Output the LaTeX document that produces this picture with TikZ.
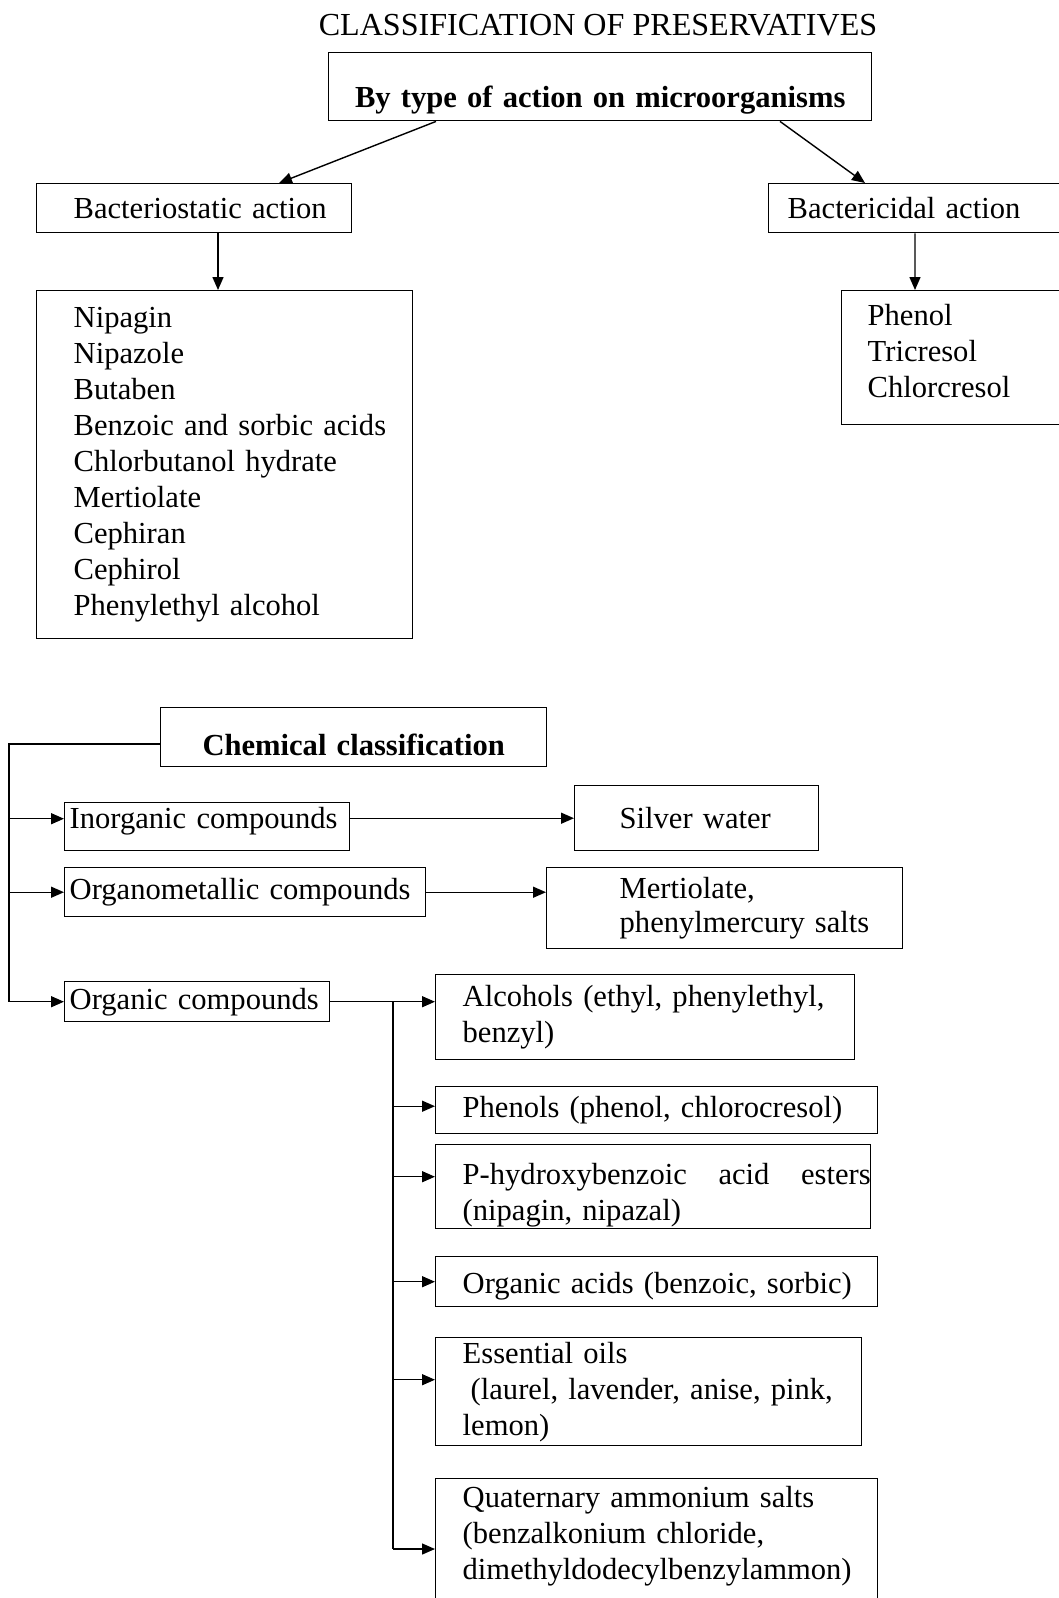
\documentclass[tikz,border=0pt]{standalone}
\usepackage{fontspec}
\setmainfont{Liberation Serif}
\usepackage{tikz}
\usetikzlibrary{positioning, arrows.meta, calc}

\begin{document}
\begin{tikzpicture}[
    box/.style={draw, anchor=north west, inner xsep=0pt, inner ysep=0pt, align=left},
    lead/.style={execute at begin node={\leftskip=#1}},
    arr/.style={-{Triangle[length=1.3mm, width=1.1mm]}},
    every node/.style={font=\fontsize{8.7pt}{10.24pt}\selectfont}
]
\useasboundingbox (0,0) rectangle (10.59,-15.98);

% By type of action
\node[font=\fontsize{9.13pt}{10.24pt}\selectfont] (title) at (5.98,-0.25) {CLASSIFICATION OF PRESERVATIVES};
\node[box, align=center, text width=5.43cm, minimum height=0.68cm, text height=0.5cm, text depth=0.08cm] (action) at (3.28,-0.52) {\textbf{By type of action on microorganisms}};

\node[box, text width=3.15cm, minimum height=0.49cm, lead=0.37cm] (bstat) at (0.36,-1.83) {Bacteriostatic action};
\node[box, text width=3.07cm, minimum height=0.49cm, lead=0.19cm] (bcid) at (7.68,-1.83) {Bactericidal action};
\draw[arr] ([xshift=1.08cm]action.south west) -- ([xshift=2.43cm]bstat.north west);
\draw[arr] ([xshift=4.52cm]action.south west) -- ([xshift=0.97cm]bcid.north west);

\node[box, text width=3.76cm, minimum height=3.48cm, lead=0.37cm] (bstatlist) at (0.36,-2.90) {Nipagin\\Nipazole\\Butaben\\Benzoic and sorbic acids\\Chlorbutanol hydrate\\Mertiolate\\Cephiran\\Cephirol\\Phenylethyl alcohol};
\node[box, text width=2.34cm, minimum height=1.34cm, text depth=0.86cm, lead=0.26cm] (bcidlist) at (8.41,-2.90) {Phenol\\Tricresol\\Chlorcresol};
\draw[arr] ([xshift=1.82cm]bstat.south west) -- ([xshift=1.82cm]bstatlist.north west);
\draw[arr] ([xshift=1.47cm]bcid.south west) -- ([xshift=0.74cm]bcidlist.north west);

% Chemical classification
\node[box, align=center, text width=3.86cm, minimum height=0.59cm, text height=0.45cm, text depth=0.08cm] (chem) at (1.60,-7.07) {\textbf{Chemical classification}};
\coordinate (bus) at (0.09,-7.44);

\node[box, text width=2.85cm, minimum height=0.48cm, text depth=0.17cm, lead=0.05cm] (inorg) at (0.64,-8.02) {Inorganic compounds};
\node[box, text width=2.44cm, minimum height=0.65cm, lead=0.45cm] (silver) at (5.74,-7.85) {Silver water};
\node[box, text width=3.61cm, minimum height=0.49cm, lead=0.05cm] (orgmet) at (0.64,-8.67) {Organometallic compounds};
\node[box, text width=3.56cm, minimum height=0.81cm, lead=0.73cm, font=\fontsize{8.7pt}{9.6pt}\selectfont] (mert) at (5.46,-8.67) {Mertiolate,\\phenylmercury salts};
\node[box, text width=2.65cm, minimum height=0.40cm, lead=0.05cm] (organic) at (0.64,-9.81) {Organic compounds};

\draw (chem.west |- bus) -- (bus) -- (bus |- organic.west);
\draw[arr] ($(bus |- inorg.west)+(0,0.08)$) -- ($(inorg.west)+(0,0.08)$);
\draw[arr] (bus |- orgmet.west) -- (orgmet.west);
\draw[arr] (bus |- organic.west) -- (organic.west);
\draw[arr] (inorg.east |- silver.west) -- (silver.west);
\draw[arr] (orgmet.east) -- (orgmet.east -| mert.west);

% Organic compounds
\node[box, text width=4.19cm, minimum height=0.85cm, lead=0.27cm] (alc) at (4.35,-9.74) {Alcohols (ethyl, phenylethyl,\\benzyl)};
\node[box, text width=4.42cm, minimum height=0.47cm, lead=0.27cm] (phen) at (4.35,-10.86) {Phenols (phenol, chlorocresol)};
\node[box, text width=4.35cm, minimum height=0.84cm, text height=0.39cm, lead=0.27cm] (phyd) at (4.35,-11.44) {\makebox[4.08cm][l]{P-hydroxybenzoic\hfill acid\hfill esters}\\(nipagin, nipazal)};
\node[box, text width=4.42cm, minimum height=0.50cm, text height=0.30cm, lead=0.27cm] (orgac) at (4.35,-12.56) {Organic acids (benzoic, sorbic)};
\node[box, text width=4.26cm, minimum height=1.08cm, lead=0.27cm] (oils) at (4.35,-13.37) {Essential oils\\\hspace*{0.08cm}(laurel, lavender, anise, pink,\\lemon)};
\node[box, text width=4.42cm, inner ysep=0.074cm, text depth=1.16cm, lead=0.27cm] (quat) at (4.35,-14.78) {Quaternary ammonium salts\\(benzalkonium chloride,\\dimethyldodecylbenzylammon)};

\coordinate (split) at (3.93,-10.01);
\draw[arr] (organic.east) -- (organic.east -| alc.west);
\draw (split) -- ($(split |- quat.north west)+(0,-0.71)$);
\draw[arr] ($(split |- phen.west)+(0,0.04)$) -- ($(phen.west)+(0,0.04)$);
\draw[arr] ($(split |- phyd.west)+(0,0.10)$) -- ($(phyd.west)+(0,0.10)$);
\draw[arr] (split |- orgac.west) -- (orgac.west);
\draw[arr] ($(split |- oils.west)+(0,0.12)$) -- ($(oils.west)+(0,0.12)$);
\draw[arr] ($(split |- quat.north west)+(0,-0.71)$) -- ($(quat.north west)+(0,-0.71)$);

\end{tikzpicture}
\end{document}
